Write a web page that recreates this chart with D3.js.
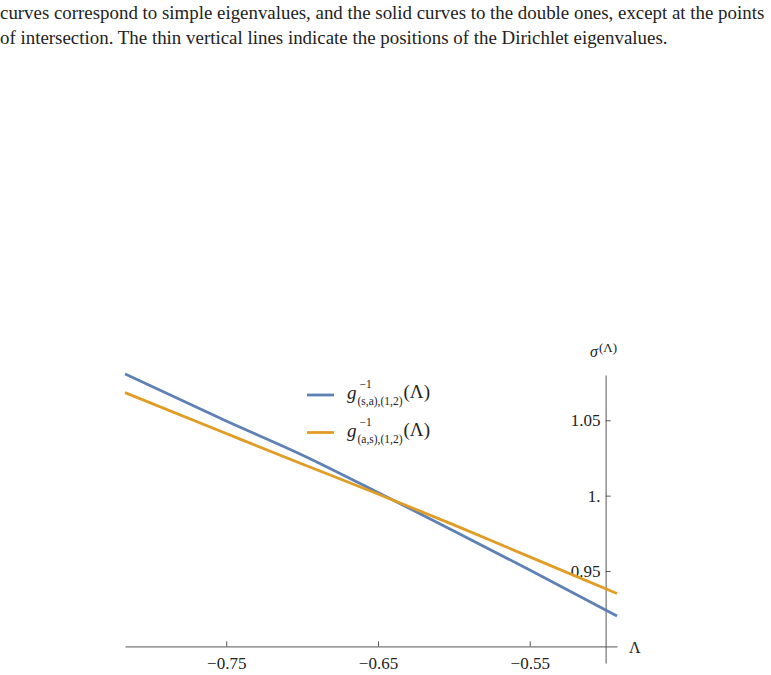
<!DOCTYPE html>
<html>
<head>
<meta charset="utf-8">
<script src="https://cdn.jsdelivr.net/npm/d3@7"></script>
<style>
  body { margin: 0; background: #fff; }
</style>
</head>
<body>
<div id="chart"></div>
<script>
/********************************************************/
// Data
const lambdaValues = [-0.8167, -0.75, -0.70, -0.65, -0.60, -0.55, -0.4925];
const sigmaSA = [1.0807, 1.0495, 1.0270, 1.0021, 0.9766, 0.9507, 0.9202];
const sigmaAS = [1.0683, 1.0412, 1.0210, 1.0011, 0.9806, 0.9594, 0.9351];
const xTicks = [-0.75, -0.65, -0.55];
const xTickLabels = ["\u22120.75", "\u22120.65", "\u22120.55"];
const yTicks = [0.95, 1.0, 1.05];
const yTickLabels = ["0.95", "1.", "1.05"];
const seriesSubs = ["(s,a),(1,2)", "(a,s),(1,2)"];
const captionLines = [
  "curves correspond to simple eigenvalues, and the solid curves to the double ones, except at the points",
  "of intersection. The thin vertical lines indicate the positions of the Dirichlet eigenvalues."
];
/********************************************************/
const svgWidth = 771;
const svgHeight = 675;
const colors = ["#5E81B5", "#E19C24"];
const serif = "\"Liberation Serif\"";

const svg = d3.select("#chart").append("svg")
  .attr("width", svgWidth)
  .attr("height", svgHeight);

// every text goes through here so the serif face is set inline
function addText(parent, px, py, size, str) {
  return parent.append("text")
    .attr("x", px).attr("y", py)
    .style("font-family", serif)
    .style("font-size", size + "px")
    .style("fill", "#222")
    .text(str);
}

// caption, sized so each line spans the same width as in the picture
captionLines.forEach((line, i) => {
  const t = addText(svg, 0, 19 + i * 24.5, 17, line);
  const target = i === 0 ? 765 : 668;
  const w = t.node().getComputedTextLength();
  t.style("font-size", (17 * target / w) + "px");
});

/********************************************************/
const x = d3.scaleLinear().domain([-0.8167, -0.4925]).range([125, 617]);
const y = d3.scaleLinear().domain([0.889, 1.08]).range([663, 375]);

// x axis, ticks pointing up
const xAxis = d3.axisBottom(x)
  .tickValues(xTicks)
  .tickFormat((d, i) => xTickLabels[i])
  .tickSizeInner(-5)
  .tickSizeOuter(0)
  .tickPadding(10.5);
svg.append("g")
  .attr("transform", `translate(0, ${y(0.9)})`)
  .call(xAxis)
  .call(g => g.selectAll("path, line").attr("stroke", "#555"))
  .call(g => g.selectAll("text")
    .style("font-family", serif).style("font-size", "17px").style("fill", "#222"));

// y axis, ticks pointing right
const yAxis = d3.axisLeft(y)
  .tickValues(yTicks)
  .tickFormat((d, i) => yTickLabels[i])
  .tickSizeInner(-5)
  .tickSizeOuter(0)
  .tickPadding(5);
svg.append("g")
  .attr("transform", `translate(${x(-0.5)}, 0)`)
  .call(yAxis)
  .call(g => g.selectAll("path, line").attr("stroke", "#555"))
  .call(g => g.selectAll("text")
    .style("font-family", serif).style("font-size", "17px").style("fill", "#222"));

// axis labels
addText(svg, 629, 653, 16, "\u039B");
addText(svg, 590, 357, 16, "\u03C3").style("font-style", "italic");
addText(svg, 599, 352, 13, "(\u039B)");

/********************************************************/
// curves
const line = d3.line()
  .x((d, i) => x(lambdaValues[i]))
  .y(d => y(d))
  .curve(d3.curveMonotoneX);

[sigmaSA, sigmaAS].forEach((s, k) => {
  svg.append("path")
    .datum(s)
    .attr("d", line)
    .attr("fill", "none")
    .attr("stroke", colors[k])
    .attr("stroke-width", 2.8);
});

/********************************************************/
// legend
seriesSubs.forEach((sub, k) => {
  const ly = 395 + k * 37.5;
  svg.append("line")
    .attr("x1", 307).attr("x2", 334)
    .attr("y1", ly).attr("y2", ly)
    .attr("stroke", colors[k])
    .attr("stroke-width", 2.8);
  const g = svg.append("g");
  const gText = addText(g, 347, ly + 4, 19, "g").style("font-style", "italic");
  const gEnd = 347 + gText.node().getComputedTextLength();
  addText(g, gEnd + 3, ly - 7, 11.5, "\u22121");
  const subText = addText(g, gEnd + 1, ly + 10, 11.5, sub);
  const subEnd = gEnd + 1 + subText.node().getComputedTextLength();
  addText(g, subEnd + 1, ly + 3, 19, "(\u039B)");
});
</script>
</body>
</html>
